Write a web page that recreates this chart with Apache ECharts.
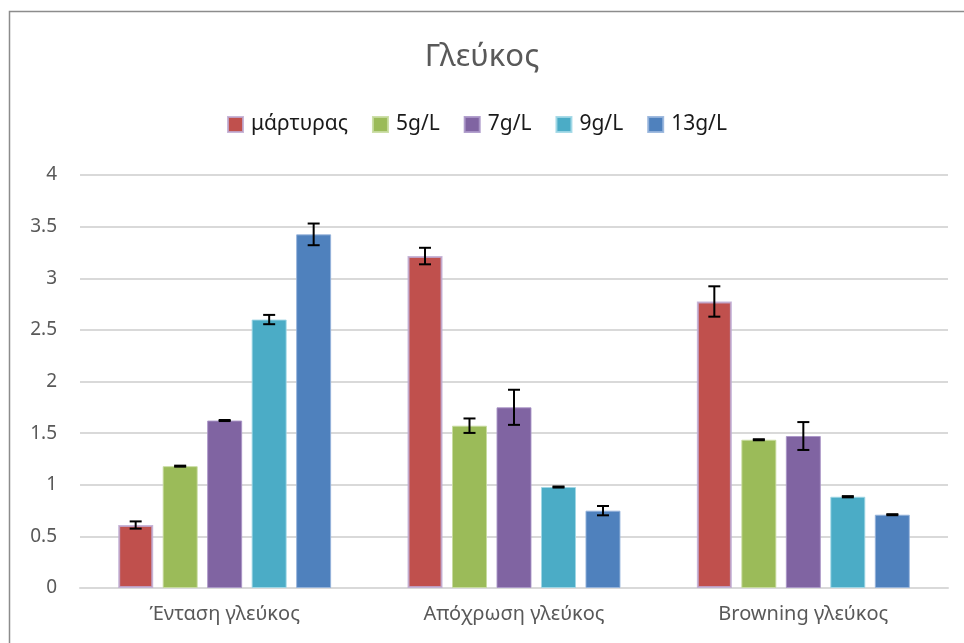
<!DOCTYPE html>
<html>
<head>
<meta charset="utf-8">
<script src="https://cdn.jsdelivr.net/npm/echarts@6/dist/echarts.min.js"></script>
<style>
  html, body { margin: 0; padding: 0; background: #fff; }
  #chart { width: 964px; height: 643px; }
</style>
</head>
<body>
<div id="chart"></div>
<script>
// Categories on the x axis
const categories = ['Ένταση γλεύκος', 'Απόχρωση γλεύκος', 'Browning γλεύκος'];

// Series names (legend)
const seriesNames = ['μάρτυρας', '5g/L', '7g/L', '9g/L', '13g/L'];

// Mean values per series, one per category
const vControl = [0.61, 3.215, 2.775];
const v5 = [1.18, 1.572, 1.436];
const v7 = [1.622, 1.75, 1.472];
const v9 = [2.60, 0.978, 0.884];
const v13 = [3.425, 0.749, 0.71];

// Standard deviations (error bar half-lengths)
const eControl = [0.035, 0.08, 0.147];
const e5 = [0.005, 0.07, 0.005];
const e7 = [0.005, 0.17, 0.135];
const e9 = [0.045, 0.005, 0.006];
const e13 = [0.105, 0.045, 0.005];

// Y axis ticks
const yMin = 0, yMax = 4, yStep = 0.5;

const values = [vControl, v5, v7, v9, v13];
const errors = [eControl, e5, e7, e9, e13];
const colors = ['#C0504D', '#9BBB59', '#8064A2', '#4BACC6', '#4F81BD'];
const borders = ['rgba(190,170,210,0.85)', 'rgba(200,220,160,0.9)', 'rgba(170,150,200,0.9)', 'rgba(160,215,230,0.9)', 'rgba(150,180,220,0.9)'];

const BAR_W = 35;
const BAR_GAP = 9.5;

const chart = echarts.init(document.getElementById('chart'));

const series = [];
values.forEach((vals, i) => {
  series.push({
    name: seriesNames[i],
    type: 'bar',
    data: vals,
    barWidth: BAR_W,
    barGap: (BAR_GAP / BAR_W * 100).toFixed(1) + '%',
    itemStyle: { color: colors[i], borderColor: borders[i], borderWidth: i === 0 ? 2 : 1 },
    emphasis: { disabled: true },
    z: 2
  });
});

// Error bars drawn as custom series, offset to sit on their bar
values.forEach((vals, i) => {
  const offset = (i - 2) * (BAR_W + BAR_GAP);
  series.push({
    type: 'custom',
    name: seriesNames[i] + '_err',
    data: vals.map((v, k) => [k, v - errors[i][k], v + errors[i][k]]),
    z: 5,
    silent: true,
    renderItem: function (params, api) {
      const lo = api.coord([api.value(0), api.value(1)]);
      const hi = api.coord([api.value(0), api.value(2)]);
      const x = lo[0] + offset;
      const hw = 6;
      const st = { stroke: '#000', lineWidth: 2 };
      return {
        type: 'group',
        children: [
          { type: 'line', shape: { x1: x, y1: lo[1], x2: x, y2: hi[1] }, style: st },
          { type: 'line', shape: { x1: x - hw, y1: lo[1], x2: x + hw, y2: lo[1] }, style: st },
          { type: 'line', shape: { x1: x - hw, y1: hi[1], x2: x + hw, y2: hi[1] }, style: st }
        ]
      };
    },
    encode: { x: 0, y: [1, 2] }
  });
});

chart.setOption({
  animation: false,
  backgroundColor: '#fff',
  graphic: [{
    type: 'rect',
    shape: { x: 9.5, y: 11.5, width: 1000, height: 700 },
    style: { fill: 'none', stroke: '#8c8c8c', lineWidth: 1.5 },
    silent: true
  }],
  title: {
    text: 'Γλεύκος',
    left: 'center',
    top: 37,
    textStyle: { fontFamily: 'Noto Sans', fontSize: 31, fontWeight: 'normal', color: '#595959' }
  },
  legend: {
    data: seriesNames,
    left: 222,
    top: 109,
    itemWidth: 15,
    itemHeight: 15,
    itemGap: 24,
    icon: 'rect',
    textStyle: { fontFamily: 'Noto Sans', fontSize: 21, color: '#1a1a1a', padding: [0, 0, 0, 3] }
  },
  grid: { left: 80, right: 16, top: 175, bottom: 55, containLabel: false },
  xAxis: {
    type: 'category',
    data: categories,
    axisLine: { lineStyle: { color: '#d9d9d9', width: 2 } },
    axisTick: { show: false },
    axisLabel: { fontFamily: 'Noto Sans', fontSize: 20, color: '#595959', margin: 16 }
  },
  yAxis: {
    type: 'value',
    min: yMin,
    max: yMax,
    interval: yStep,
    axisLine: { show: false },
    axisTick: { show: false },
    splitLine: { lineStyle: { color: '#d9d9d9', width: 2 } },
    axisLabel: { fontFamily: 'Noto Sans', fontSize: 19, color: '#595959', margin: 23 }
  },
  series: series
});
</script>
</body>
</html>
